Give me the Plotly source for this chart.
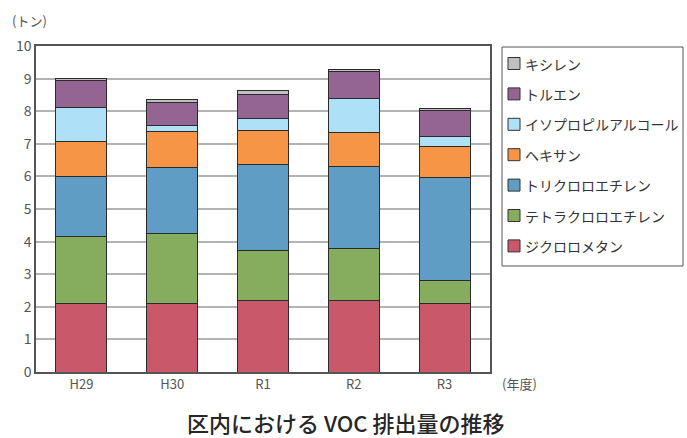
import plotly.graph_objects as go

categories = ["H29", "H30", "R1", "R2", "R3"]
series_names = ["ジクロロメタン", "テトラクロロエチレン", "トリクロロエチレン", "ヘキサン",
                "イソプロピルアルコール", "トルエン", "キシレン"]
dichloromethane = [2.09, 2.09, 2.20, 2.20, 2.09]
tetrachloroethylene = [2.07, 2.16, 1.52, 1.58, 0.73]
trichloroethylene = [1.84, 2.01, 2.66, 2.53, 3.14]
hexane = [1.08, 1.12, 1.04, 1.04, 0.95]
isopropyl_alcohol = [1.04, 0.18, 0.35, 1.04, 0.32]
toluene = [0.81, 0.72, 0.75, 0.82, 0.79]
xylene = [0.07, 0.09, 0.10, 0.08, 0.07]
y_ticks = list(range(0, 11))

series_values = [dichloromethane, tetrachloroethylene, trichloroethylene, hexane,
                 isopropyl_alcohol, toluene, xylene]
colors = ["#C9596A", "#86AC5E", "#5F9DC4", "#F69546", "#AEE0F8", "#946593", "#BFBFBF"]

FONT = "Noto Sans CJK JP"
W, H = 687, 438
L, R, T, B = 36, 197, 46, 66
PW, PH = W - L - R, H - T - B


def px_x(x):
    return (x - L) / PW


def px_y(y):
    return (H - B - y) / PH


fig = go.Figure()
for name, vals, col in zip(series_names, series_values, colors):
    fig.add_trace(go.Bar(
        x=categories, y=vals, name=name,
        marker=dict(color=col, line=dict(color="#2b2b2b", width=1)),
        width=0.56, showlegend=False,
    ))

shapes = [dict(type="rect", xref="paper", yref="paper",
               x0=px_x(502), x1=px_x(683), y0=px_y(47), y1=px_y(266),
               line=dict(color="#555", width=1), fillcolor="white", layer="above")]
annotations = []
# manual legend, top item = last series
for k, idx in enumerate(reversed(range(len(series_names)))):
    cy = 63.5 + k * 30.4
    shapes.append(dict(type="rect", xref="paper", yref="paper",
                       x0=px_x(508), x1=px_x(520), y0=px_y(cy - 6), y1=px_y(cy + 6),
                       fillcolor=colors[idx], line=dict(color="#333", width=1), layer="above"))
    annotations.append(dict(text=series_names[idx], xref="paper", yref="paper",
                            x=px_x(523), y=px_y(cy), xanchor="left", yanchor="middle",
                            showarrow=False, font=dict(size=14, color="#333")))

annotations += [
    dict(text="(トン)", xref="paper", yref="paper", x=px_x(10), y=px_y(20),
         xanchor="left", yanchor="middle", showarrow=False,
         font=dict(size=13, color="#555")),
    dict(text="(年度)", xref="paper", yref="paper", x=px_x(500), y=px_y(383),
         xanchor="left", yanchor="middle", showarrow=False,
         font=dict(size=13, color="#555")),
    dict(text="区内における VOC 排出量の推移", xref="paper", yref="paper",
         x=px_x(346), y=px_y(422), xanchor="center", yanchor="middle",
         showarrow=False, font=dict(size=22, color="#262626", weight=500)),
]

fig.update_layout(
    barmode="stack",
    width=W, height=H,
    margin=dict(l=L, r=R, t=T, b=B),
    paper_bgcolor="white", plot_bgcolor="white",
    font=dict(family=FONT, size=13, color="#444"),
    showlegend=False,
    xaxis=dict(
        showline=True, linecolor="#555", linewidth=1.5, mirror=True,
        ticks="", tickfont=dict(size=13, color="#555"),
    ),
    yaxis=dict(
        range=[0, 10], tickvals=y_ticks, showgrid=True, gridcolor="#B3B3B3", gridwidth=1.5,
        showline=True, linecolor="#555", linewidth=1.5, mirror=True,
        ticks="", tickfont=dict(size=14, color="#555"), zeroline=False,
    ),
    shapes=shapes,
    annotations=annotations,
)

fig.write_html("out.html", config={"displayModeBar": False},
               post_script="document.body.style.margin='0';")
